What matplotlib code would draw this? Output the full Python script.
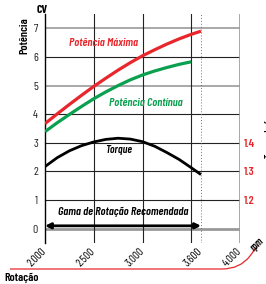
import matplotlib
matplotlib.use("Agg")
import matplotlib.pyplot as plt
from matplotlib.path import Path
from matplotlib.patches import PathPatch

plt.rcParams['font.family'] = ['Barlow Condensed', 'DejaVu Sans']

# dados
rpm = [2000, 2125, 2250, 2375, 2500, 2625, 2750, 2875, 3000, 3125, 3250, 3375, 3500, 3600]
pot_max = [3.67, 4.01, 4.34, 4.66, 4.97, 5.26, 5.54, 5.80, 6.04, 6.25, 6.45, 6.63, 6.79, 6.90]
rpm_cont = [2000, 2125, 2250, 2375, 2500, 2625, 2750, 2875, 3000, 3125, 3250, 3375, 3500]
pot_cont = [3.39, 3.70, 3.99, 4.27, 4.54, 4.78, 5.00, 5.20, 5.37, 5.51, 5.63, 5.74, 5.83]
torque = [1.317, 1.348, 1.372, 1.390, 1.403, 1.412, 1.416, 1.413, 1.404, 1.388,
          1.366, 1.342, 1.313, 1.289]

xticks = [2000, 2500, 3000, 3600, 4000]
xlabels = ['2.000', '2.500', '3.000', '3.600', '4.000']
yticks = [0, 1, 2, 3, 4, 5, 6, 7]
tticks = [1.2, 1.3, 1.4]
faixa = (2000, 3600)

RED = '#e8262b'
GREEN = '#0aa04f'

W, H = 266, 284
fig = plt.figure(figsize=(W / 100, H / 100), dpi=100)
ax = fig.add_axes([45 / W, 1 - 243 / H, 195 / W, 229 / H])
ax.set_xlim(2000, 4000)
ax.set_ylim(-0.5, 7.5)

# grade
for y in yticks:
    if y == 0:
        ax.axhline(y, color='#999999', lw=2.0, zorder=1)
    elif y in (5, 7):
        ax.axhline(y, color='#999999', lw=1.2, zorder=1)
    else:
        ax.axhline(y, color='#222222', lw=0.8, zorder=1)
for x in [2500, 3000, 3500]:
    ax.axvline(x, color='#222222', lw=0.8, zorder=1)
ax.axvline(4000, color='#999999', lw=1.2, zorder=1)
ax.axvline(3600, color='#777777', lw=0.7, ls=(0, (1, 2)), zorder=1)

for s in ['top', 'right', 'bottom']:
    ax.spines[s].set_visible(False)
ax.spines['left'].set_linewidth(1.0)
ax.spines['left'].set_zorder(2)

ax.plot(rpm, pot_max, color=RED, lw=2.3, solid_capstyle='butt', zorder=3)
ax.plot(rpm_cont, pot_cont, color=GREEN, lw=2.3, solid_capstyle='butt', zorder=3)

ax.set_yticks(yticks)
ax.set_yticklabels([str(y) for y in yticks], fontsize=8.5, color='#222222')
ax.tick_params(axis='y', length=0, pad=5)
ax.set_xticks(xticks)
ax.set_xticklabels(xlabels, fontsize=8, rotation=45, ha='right', va='center',
                   rotation_mode='anchor')
ax.tick_params(axis='x', length=0, pad=5)

ax2 = ax.twinx()
ax2.set_ylim(1.05, 1.85)
ax2.plot(rpm, torque, color='black', lw=2.0, solid_capstyle='butt', zorder=3)
for s in ax2.spines.values():
    s.set_visible(False)
ax2.set_yticks(tticks)
ax2.set_yticklabels([str(t) for t in tticks], fontsize=8.5, color=RED, fontweight=600)
ax2.tick_params(axis='y', length=0, pad=3)

ax.annotate('', xy=(faixa[0], 0.1), xytext=(faixa[1], 0.1),
            arrowprops=dict(arrowstyle='<|-|>', color='black', lw=2.0,
                            mutation_scale=8, shrinkA=0, shrinkB=0), zorder=4)

ax.text(2605, 6.5, 'Potência Máxima', color=RED, fontsize=8.5,
        fontweight=600, style='italic', ha='center', va='center')
ax.text(3030, 4.4, 'Potência Contínua', color=GREEN, fontsize=8.5,
        fontweight=600, style='italic', ha='center', va='center')
ax.text(2750, 2.74, 'Torque', color='black', fontsize=8,
        fontweight=600, style='italic', ha='center', va='center')
ax.text(2805, 0.6, 'Gama de Rotação Recomendada', color='black', fontsize=8.5,
        fontweight=600, style='italic', ha='center', va='center')

fig.text(42 / W, 1 - 10 / H, 'CV', fontsize=8.5, fontweight=700, ha='center', va='center')
fig.text(24 / W, 1 - 36 / H, 'Potência', fontsize=8.5, fontweight=600,
         rotation=90, ha='center', va='center')
fig.text(4 / W, 1 - 278 / H, 'Rotação', fontsize=8.5, fontweight=600,
         ha='left', va='center')
fig.text(257 / W, 1 - 244 / H, 'rpm', fontsize=7.5, fontweight=600, style='italic',
         rotation=45, ha='center', va='center')
fig.text(269 / W, 1 - 135 / H, 'Torque kgf.m', fontsize=7, fontweight=600,
         rotation=90, ha='center', va='center')

# linha vermelha do eixo de rotação
pts = [(10, 269), (222, 269), (240, 269), (250, 256), (258, 245)]
verts = [(px / W, 1 - py / H) for px, py in pts]
codes = [Path.MOVETO, Path.LINETO, Path.CURVE3, Path.CURVE3, Path.LINETO]
fig.add_artist(PathPatch(Path(verts, codes), transform=fig.transFigure,
                         fill=False, edgecolor=RED, lw=0.9))

fig.savefig('out.png', dpi=100)
